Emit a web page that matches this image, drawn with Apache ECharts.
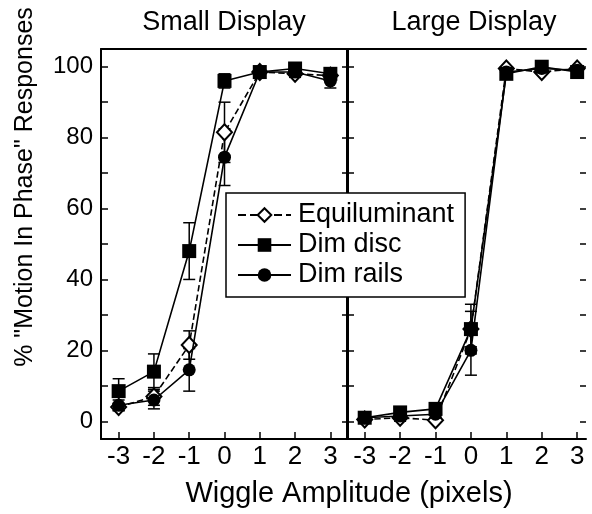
<!DOCTYPE html>
<html>
<head>
<meta charset="utf-8">
<script src="https://cdn.jsdelivr.net/npm/echarts@6/dist/echarts.min.js"></script>
<style>
  html, body { margin: 0; padding: 0; background: #fff; }
  #chart { width: 592px; height: 514px; }
</style>
</head>
<body>
<div id="chart"></div>
<script>
// wiggle amplitudes (pixels)
const amps = [-3, -2, -1, 0, 1, 2, 3];
const xTicks = [-3, -2, -1, 0, 1, 2, 3];
const yTicks = [0, 10, 20, 30, 40, 50, 60, 70, 80, 90, 100];
const yLabels = [0, 20, 40, 60, 80, 100];
const panelTitles = ['Small Display', 'Large Display'];
const seriesNames = ['Equiluminant', 'Dim disc', 'Dim rails'];

// Small display, % "motion in phase" + error
const smallEqui = [4, 7, 21.5, 81.5, 98.5, 98, 97.5];
const smallEquiErr = [1, 2.5, 4, 8.5, 1, 1, 1];
const smallDisc = [8.5, 14, 48, 96, 98.5, 99.5, 98];
const smallDiscErr = [3.5, 5, 8, 2, 1, 1, 1];
const smallRails = [4.5, 6, 14.5, 74.5, 98.5, 98.5, 96];
const smallRailsErr = [1.5, 2.5, 6, 8, 1, 1, 2];

// Large display
const largeEqui = [0.5, 1, 0.3, 26, 99.5, 98.5, 99.5];
const largeEquiErr = [0.5, 1, 0.5, 5, 0.5, 0.5, 0.5];
const largeDisc = [1, 2.5, 3.5, 26, 98, 100, 98.5];
const largeDiscErr = [1, 1, 1, 7, 1, 0.5, 1];
const largeRails = [1, 1.5, 2, 20, 98.5, 99.5, 99];
const largeRailsErr = [1, 1, 1, 7, 0.5, 0.5, 0.5];

const FONT = '"Liberation Sans", Arial, Helvetica, sans-serif';
const black = '#000';

const chart = echarts.init(document.getElementById('chart'), null, { renderer: 'canvas' });

// marker styles per condition
const looks = [
  { symbol: 'diamond', size: [15, 16], fill: '#fff', dash: 'dashed' },
  { symbol: 'rect', size: 14, fill: black, dash: 'solid' },
  { symbol: 'circle', size: 13, fill: black, dash: 'solid' }
];

const pairs = (ys) => amps.map((x, i) => [x, ys[i]]);
const errPairs = (ys, es) => amps.map((x, i) => [x, ys[i], es[i]]);

const lineSeries = (name, ys, k, panel) => ({
  name: name,
  type: 'line',
  xAxisIndex: panel * 2,
  yAxisIndex: panel * 2,
  data: pairs(ys),
  symbol: looks[k].symbol,
  symbolSize: looks[k].size,
  showAllSymbol: true,
  lineStyle: { color: black, width: 1.6, type: looks[k].dash },
  itemStyle: { color: looks[k].fill, borderColor: black, borderWidth: k === 0 ? 2 : 0, opacity: 1 },
  emphasis: { disabled: true },
  animation: false,
  z: 3 + k
});

// vertical error bars with small caps
const errSeries = (ys, es, panel) => ({
  type: 'custom',
  xAxisIndex: panel * 2,
  yAxisIndex: panel * 2,
  data: errPairs(ys, es),
  silent: true,
  z: 2,
  renderItem: (params, api) => {
    const x = api.value(0), y = api.value(1), e = api.value(2);
    const hi = api.coord([x, y + e]);
    const lo = api.coord([x, y - e]);
    const w = 6;
    const st = { stroke: black, lineWidth: 1.5 };
    return {
      type: 'group',
      children: [
        { type: 'line', shape: { x1: hi[0], y1: hi[1], x2: lo[0], y2: lo[1] }, style: st },
        { type: 'line', shape: { x1: hi[0] - w, y1: hi[1], x2: hi[0] + w, y2: hi[1] }, style: st },
        { type: 'line', shape: { x1: lo[0] - w, y1: lo[1], x2: lo[0] + w, y2: lo[1] }, style: st }
      ]
    };
  }
});

const grids = [
  { left: 101, top: 49, width: 247, height: 390, outerBoundsMode: 'none' },
  { left: 347, top: 49, width: 239, height: 390, outerBoundsMode: 'none' }
];
const xRanges = [[-3.5, 3.5], [-3.5, 3.25]];

const axLine = { show: true, onZero: false, lineStyle: { color: black, width: 2 } };

const xAxes = [];
const yAxes = [];
for (let g = 0; g < 2; g++) {
  // bottom axis
  xAxes.push({
    type: 'value', gridIndex: g, position: 'bottom',
    min: xRanges[g][0], max: xRanges[g][1],
    axisLine: axLine,
    axisTick: { show: true, inside: true, length: 7, customValues: xTicks, lineStyle: { color: black, width: 1.5 } },
    axisLabel: { show: true, customValues: xTicks, color: black, fontSize: 26, fontFamily: FONT, margin: 5 },
    splitLine: { show: false }
  });
  // top frame line
  xAxes.push({
    type: 'value', gridIndex: g, position: 'top',
    min: xRanges[g][0], max: xRanges[g][1],
    axisLine: axLine, axisTick: { show: false }, axisLabel: { show: false }, splitLine: { show: false }
  });
  // left axis
  yAxes.push({
    type: 'value', gridIndex: g, position: 'left',
    min: -5, max: 105,
    axisLine: axLine,
    axisTick: { show: true, inside: true, length: 7, customValues: yTicks, lineStyle: { color: black, width: 1.5 } },
    axisLabel: { show: g === 0, customValues: yLabels, color: black, fontSize: 24, fontFamily: FONT, margin: 8, padding: [7, 0, 0, 0] },
    splitLine: { show: false }
  });
  // right side ticks (outer right edge has no visible line)
  yAxes.push({
    type: 'value', gridIndex: g, position: 'right',
    min: -5, max: 105,
    axisLine: g === 0 ? axLine : { show: false, onZero: false },
    axisTick: { show: true, inside: true, length: 6, customValues: yTicks, lineStyle: { color: black, width: 1.5 } },
    axisLabel: { show: false },
    splitLine: { show: false }
  });
}

const smallSets = [[smallEqui, smallEquiErr], [smallDisc, smallDiscErr], [smallRails, smallRailsErr]];
const largeSets = [[largeEqui, largeEquiErr], [largeDisc, largeDiscErr], [largeRails, largeRailsErr]];

const series = [];
[smallSets, largeSets].forEach((sets, panel) => {
  sets.forEach((s) => {
    series.push(errSeries(s[0], s[1], panel));
  });
  // draw rails, disc, then equiluminant on top
  [2, 1, 0].forEach((k) => {
    series.push(lineSeries(seriesNames[k], sets[k][0], k, panel));
  });
});

const option = {
  backgroundColor: '#fff',
  animation: false,
  textStyle: { fontFamily: FONT },
  grid: grids,
  xAxis: xAxes,
  yAxis: yAxes,
  legend: {
    data: seriesNames,
    orient: 'vertical',
    left: 226,
    top: 193,
    padding: [7, 11, 7, 11],
    itemGap: 0,
    itemWidth: 53,
    itemHeight: 17,
    backgroundColor: '#fff',
    borderColor: black,
    borderWidth: 1.5,
    borderRadius: 0,
    selectedMode: false,
    textStyle: { color: black, fontSize: 27, fontFamily: FONT, lineHeight: 30, padding: [0, 0, 0, 2] },
    z: 10
  },
  graphic: [
    {
      type: 'text', x: 224, y: 23,
      style: { text: panelTitles[0], fontSize: 27, fontFamily: FONT, fill: black, textAlign: 'center', textVerticalAlign: 'middle' }
    },
    {
      type: 'text', x: 474, y: 23,
      style: { text: panelTitles[1], fontSize: 27, fontFamily: FONT, fill: black, textAlign: 'center', textVerticalAlign: 'middle' }
    },
    {
      // y axis name
      type: 'text', x: 25, y: 187, rotation: Math.PI / 2,
      style: { text: '% "Motion In Phase" Responses', fontSize: 25, fontFamily: FONT, fill: black, textAlign: 'center', textVerticalAlign: 'middle' }
    },
    {
      // x axis name
      type: 'text', x: 349, y: 494,
      style: { text: 'Wiggle Amplitude (pixels)', fontSize: 29, fontFamily: FONT, fill: black, textAlign: 'center', textVerticalAlign: 'middle' }
    }
  ],
  series: series
};

chart.setOption(option);
</script>
</body>
</html>
